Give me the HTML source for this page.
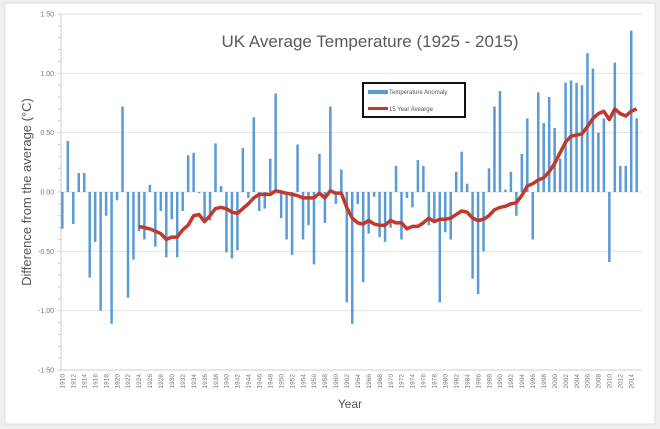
<!DOCTYPE html>
<html><head><meta charset="utf-8"><style>
html,body{margin:0;padding:0;background:#efefef;}
svg{display:block;font-family:"Liberation Sans",sans-serif;}
</style></head><body>
<svg id="s" width="660" height="429" xmlns="http://www.w3.org/2000/svg">
<rect x="0" y="0" width="660" height="429" fill="#efefef"/>
<rect x="5" y="3" width="650" height="421" fill="#fff" stroke="#ddd"/>
<g id="grid"></g>
<g id="bars"></g>
<polyline id="avg" fill="none" stroke="#c0392b" stroke-width="3.5" stroke-linejoin="round"/>
<g id="lab" font-size="7" fill="#777"></g>
<text x="370" y="47" font-size="17" fill="#5a5a5a" text-anchor="middle">UK Average Temperature (1925 - 2015)</text>
<text transform="translate(31,192) rotate(-90)" font-size="13" fill="#555" text-anchor="middle">Difference from the average (°C)</text>
<text x="350" y="408" font-size="12" fill="#555" text-anchor="middle">Year</text>
<rect x="363" y="83" width="102" height="34" fill="#fff" stroke="#111" stroke-width="2"/>
<rect x="368" y="90" width="20" height="4" fill="#5b9bd5"/>
<text x="389" y="94" font-size="6" fill="#555">Temperature  Anomaly</text>
<rect x="368" y="107" width="20" height="3" fill="#c0392b"/>
<text x="389" y="111" font-size="6" fill="#555">15 Year Avearge</text>
</svg>
<script>
var v=[-0.31,0.43,-0.27,0.16,0.16,-0.72,-0.42,-1.00,-0.20,-1.11,-0.07,0.72,-0.89,-0.57,-0.33,-0.40,0.06,-0.46,-0.16,-0.55,-0.23,-0.55,-0.16,0.31,0.33,-0.01,-0.23,-0.24,0.41,0.05,-0.51,-0.56,-0.49,0.37,-0.05,0.63,-0.16,-0.14,0.28,0.83,-0.22,-0.40,-0.53,0.40,-0.40,-0.28,-0.61,0.32,-0.26,0.72,-0.10,0.19,-0.93,-1.11,-0.10,-0.76,-0.35,-0.04,-0.38,-0.42,-0.30,0.22,-0.40,-0.05,-0.13,0.27,0.22,-0.28,-0.25,-0.93,-0.34,-0.40,0.17,0.34,0.07,-0.73,-0.86,-0.50,0.20,0.72,0.85,0.02,0.17,-0.20,0.32,0.62,-0.40,0.84,0.58,0.80,0.54,0.28,0.92,0.94,0.92,0.90,1.17,1.04,0.50,0.62,-0.59,1.09,0.22,0.22,1.36,0.62];
var a=[-0.29,-0.30,-0.31,-0.33,-0.35,-0.40,-0.38,-0.38,-0.32,-0.28,-0.20,-0.19,-0.25,-0.20,-0.14,-0.13,-0.14,-0.17,-0.18,-0.14,-0.10,-0.05,-0.02,-0.02,-0.02,0.01,0.00,-0.01,-0.02,-0.03,-0.05,-0.05,-0.05,-0.01,-0.05,0.01,-0.01,-0.01,-0.13,-0.22,-0.26,-0.27,-0.24,-0.27,-0.28,-0.28,-0.24,-0.26,-0.26,-0.31,-0.29,-0.29,-0.26,-0.22,-0.25,-0.23,-0.23,-0.22,-0.19,-0.16,-0.17,-0.22,-0.24,-0.23,-0.20,-0.15,-0.13,-0.12,-0.10,-0.09,-0.03,0.05,0.07,0.10,0.12,0.17,0.24,0.33,0.42,0.47,0.48,0.49,0.55,0.62,0.66,0.68,0.61,0.70,0.66,0.64,0.68,0.70];
var NS="http://www.w3.org/2000/svg";
function Y(t){return 192-t*118.7;}
function X(i){return 62.3+i*5.47;}
function el(p,n,at,tx){var e=document.createElementNS(NS,n);for(var k in at)e.setAttribute(k,at[k]);if(tx)e.textContent=tx;document.getElementById(p).appendChild(e);return e;}
for(var t=-1.5;t<=1.501;t+=0.5){var y=Y(t);
 if(Math.abs(t+1.5)>0.01)el("grid","line",{x1:61,x2:642,y1:y,y2:y,stroke:"#e2e2e2","stroke-width":1});
 el("lab","text",{x:54,y:y+2.5,"text-anchor":"end"},t.toFixed(2));}
for(var t=-1.5;t<=1.501;t+=0.1)el("grid","line",{x1:58,x2:61,y1:Y(t),y2:Y(t),stroke:"#ccc"});
el("grid","line",{x1:61,x2:61,y1:Y(1.5),y2:Y(-1.5),stroke:"#ccc"});
el("grid","line",{x1:61,x2:642,y1:Y(-1.5),y2:Y(-1.5),stroke:"#ccc"});
for(var i=0;i<v.length;i++){var y0=Y(0),y1=Y(v[i]);
 el("bars","rect",{x:X(i)-1.2,y:Math.min(y0,y1),width:2.5,height:Math.max(0.5,Math.abs(y1-y0)),fill:"#5b9bd5"});
 if(i%2==0){el("lab","text",{transform:"translate("+(X(i)+2.3)+",374) rotate(-90)","text-anchor":"end","font-size":"6.5"},String(1910+i));}}
var pts=[];for(var j=0;j<a.length;j++)pts.push(X(14+j)+","+Y(a[j]));
document.getElementById("avg").setAttribute("points",pts.join(" "));
</script>
</body></html>
